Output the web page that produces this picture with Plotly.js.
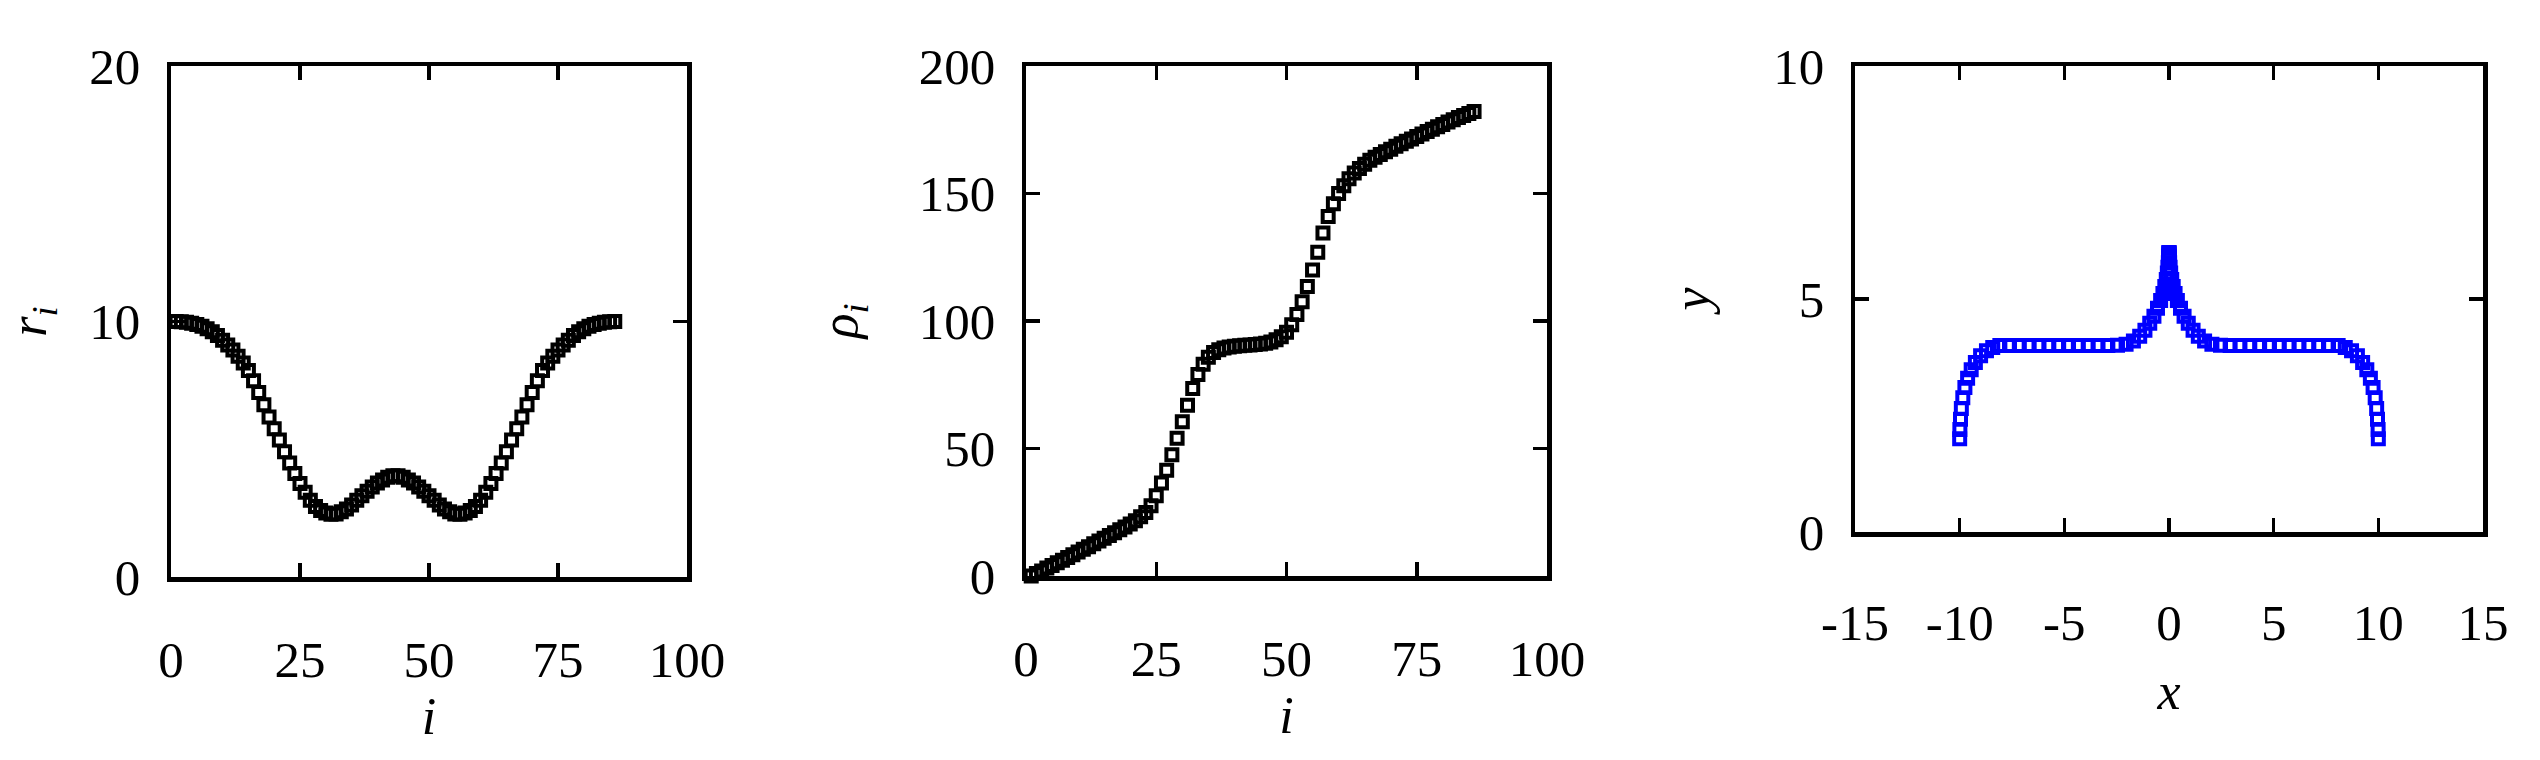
<!DOCTYPE html>
<html>
<head>
<meta charset="utf-8">
<script src="https://cdn.plot.ly/plotly-3.0.1.min.js"></script>
<style>html,body{margin:0;padding:0;background:#fff;}#chart{width:2540px;height:760px;}</style>
</head>
<body>
<div id="chart"></div>
<script>
// index i
const idx = [1,2,3,4,5,6,7,8,9,10,11,12,13,14,15,16,17,18,19,20,21,22,23,24,25,26,27,28,29,30,
  31,32,33,34,35,36,37,38,39,40,41,42,43,44,45,46,47,48,49,50,51,52,53,54,55,56,57,58,59,60,
  61,62,63,64,65,66,67,68,69,70,71,72,73,74,75,76,77,78,79,80,81,82,83,84,85,86];

// panel 1: r_i
const rVals = [10.0,9.99,9.97,9.93,9.88,9.81,9.72,9.60,9.45,9.27,9.08,8.88,8.64,8.38,8.08,7.68,7.22,6.74,6.26,5.80,
  5.36,4.90,4.46,4.05,3.66,3.32,3.00,2.76,2.60,2.50,2.46,2.47,2.55,2.66,2.82,3.00,3.18,3.36,3.52,3.68,
  3.80,3.90,3.96,3.96,3.90,3.80,3.68,3.52,3.36,3.18,3.00,2.82,2.66,2.55,2.47,2.46,2.50,2.60,2.76,3.00,
  3.32,3.66,4.05,4.46,4.90,5.36,5.80,6.26,6.74,7.22,7.68,8.08,8.38,8.64,8.88,9.08,9.27,9.45,9.60,9.72,
  9.81,9.88,9.93,9.97,9.99,10.0];

// panel 2: rho_i
const rhoVals = [0,1.0,2.0,3.1,4.1,5.2,6.2,7.3,8.3,9.4,10.5,11.5,12.6,13.7,14.8,15.9,17.0,18.1,19.2,20.4,
  21.7,23.2,24.9,27.5,31.5,36.5,41.5,47.5,54,60.5,67,73.5,79,83,85.8,87.6,88.7,89.4,89.8,90.1,
  90.3,90.5,90.6,90.8,91.0,91.3,91.8,92.6,93.8,95.6,98.5,102.5,107.5,113.5,120,127,134.5,141,146,150,
  153,155.8,158,159.8,161.5,163,164.2,165.3,166.4,167.4,168.5,169.5,170.5,171.4,172.4,173.3,174.3,175.2,176.2,177.1,
  178,178.9,179.8,180.6,181.4,182.2];

// panel 3: shape (x, y)
const xShape = [-10.0,-9.99,-9.96,-9.92,-9.85,-9.75,-9.62,-9.45,-9.25,-9.0,-8.72,-8.42,-8.08,-7.62,-7.15,-6.68,-6.21,-5.74,-5.27,-4.80,
  -4.33,-3.86,-3.39,-2.92,-2.46,-2.05,-1.7,-1.4,-1.15,-0.92,-0.72,-0.55,-0.4,-0.29,-0.2,-0.13,-0.08,-0.05,-0.03,-0.02,
  -0.01,-0.005,0.0,0.0,0.005,0.01,0.02,0.03,0.05,0.08,0.13,0.2,0.29,0.4,0.55,0.72,0.92,1.15,1.4,1.7,
  2.05,2.46,2.92,3.39,3.86,4.33,4.80,5.27,5.74,6.21,6.68,7.15,7.62,8.08,8.42,8.72,9.0,9.25,9.45,9.62,
  9.75,9.85,9.92,9.96,9.99,10.0];
const yShape = [2.0,2.2,2.42,2.65,2.88,3.1,3.3,3.48,3.64,3.78,3.89,3.96,4.0,4.0,4.0,4.0,4.0,4.0,4.0,4.0,
  4.0,4.0,4.0,4.0,4.01,4.03,4.1,4.2,4.33,4.48,4.63,4.8,4.97,5.12,5.27,5.42,5.56,5.68,5.78,5.86,
  5.92,5.97,6.0,6.0,5.97,5.92,5.86,5.78,5.68,5.56,5.42,5.27,5.12,4.97,4.8,4.63,4.48,4.33,4.2,4.1,
  4.03,4.01,4.0,4.0,4.0,4.0,4.0,4.0,4.0,4.0,4.0,4.0,4.0,4.0,3.96,3.89,3.78,3.64,3.48,3.3,
  3.1,2.88,2.65,2.42,2.2,2.0];

// tick labels of panel 3 x axis (hyphen minus, as in the original)
const xShapeTickVals = [-15, -10, -5, 0, 5, 10, 15];
const xShapeTickText = ['-15', '-10', '-5', '0', '5', '10', '15'];

const FONT = 'Liberation Serif, Times New Roman, serif';
const W = 2540, H = 760;
function dx(a, b) { return [a / W, b / W]; }
function dy(top, bottom) { return [1 - bottom / H, 1 - top / H]; }

function marker(color) {
  return {symbol: 'square-open', size: 11, color: color, line: {width: 4, color: color}};
}

const traces = [
  {x: idx, y: rVals, mode: 'markers', type: 'scatter', xaxis: 'x', yaxis: 'y', marker: marker('#000000'), cliponaxis: false, showlegend: false},
  {x: idx, y: rhoVals, mode: 'markers', type: 'scatter', xaxis: 'x2', yaxis: 'y2', marker: marker('#000000'), cliponaxis: false, showlegend: false},
  {x: xShape, y: yShape, mode: 'markers', type: 'scatter', xaxis: 'x3', yaxis: 'y3', marker: marker('#0000ff'), cliponaxis: false, showlegend: false}
];

function axis(opts) {
  return Object.assign({
    showline: true, linecolor: '#000', linewidth: 4.5, mirror: 'ticks',
    ticks: 'inside', ticklen: 14, tickwidth: 3.5, tickcolor: '#000',
    showgrid: false, zeroline: false, automargin: false, fixedrange: true,
    tickfont: {family: FONT, size: 51, color: '#000'}
  }, opts);
}
const titleFont = {family: FONT, size: 52, color: '#000'};

const layout = {
  width: W, height: H,
  margin: {l: 0, r: 0, t: 0, b: 0},
  paper_bgcolor: '#fff', plot_bgcolor: '#fff',
  showlegend: false,
  xaxis: axis({domain: dx(171, 687), range: [0, 100], dtick: 25, tick0: 0, anchor: 'y', ticklabelstandoff: 34,
    title: {text: '<i>i</i>', font: titleFont, standoff: 12}}),
  yaxis: axis({domain: dy(66, 577), range: [0, 20], dtick: 10, tick0: 0, anchor: 'x', ticklabelstandoff: 16,
    title: {text: '<i>r<sub>i</sub></i>', font: titleFont, standoff: 32}}),
  xaxis2: axis({domain: dx(1026, 1547), range: [0, 100], dtick: 25, tick0: 0, anchor: 'y2', ticklabelstandoff: 34,
    title: {text: '<i>i</i>', font: titleFont, standoff: 12}}),
  yaxis2: axis({domain: dy(66, 576), range: [0, 200], dtick: 50, tick0: 0, anchor: 'x2', ticklabelstandoff: 16,
    title: {text: '<i>ρ<sub>i</sub></i>', font: titleFont, standoff: 46}}),
  xaxis3: axis({domain: dx(1855, 2483), range: [-15, 15], tickmode: 'array', tickvals: xShapeTickVals, ticktext: xShapeTickText,
    anchor: 'y3', ticklabelstandoff: 42,
    title: {text: '<i>x</i>', font: titleFont, standoff: 24}}),
  yaxis3: axis({domain: dy(66, 532), range: [0, 10], dtick: 5, tick0: 0, anchor: 'x3', ticklabelstandoff: 16,
    title: {text: '<i>y</i>', font: titleFont, standoff: 48}})
};

Plotly.newPlot('chart', traces, layout, {staticPlot: true, displayModeBar: false});
</script>
</body>
</html>
